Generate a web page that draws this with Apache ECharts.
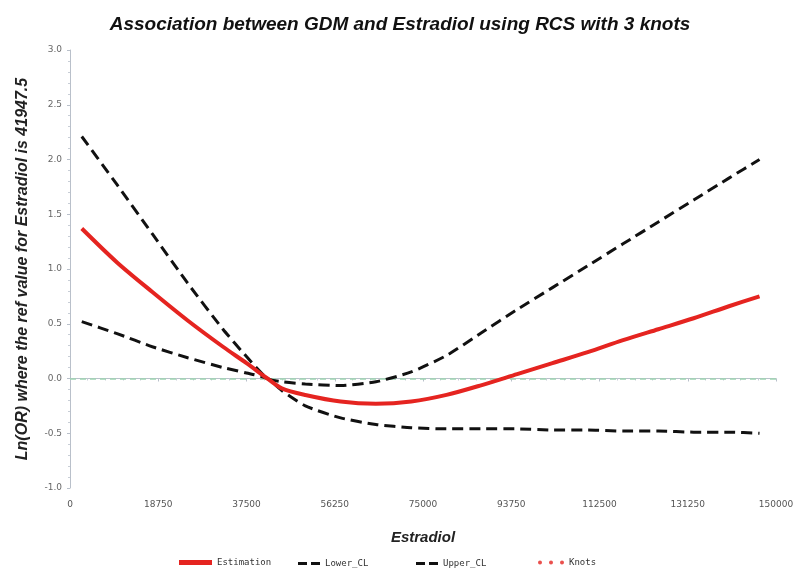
<!DOCTYPE html>
<html>
<head>
<meta charset="utf-8">
<script src="https://cdn.jsdelivr.net/npm/echarts@6/dist/echarts.min.js"></script>
<style>html,body{margin:0;padding:0;background:#fff}#c{width:800px;height:574px}</style>
</head>
<body>
<div id="c"></div>
<script>
var estradiol = [2500, 10000, 17500, 25000, 32500, 37500, 41947.5, 45000, 50000, 57500, 65000, 72500, 80000, 87500, 95000, 102500, 110000, 117500, 125000, 132500, 140000, 146500];
var estimation = [1.37, 1.06, 0.79, 0.53, 0.29, 0.14, 0, -0.09, -0.15, -0.21, -0.23, -0.21, -0.15, -0.06, 0.04, 0.14, 0.24, 0.35, 0.45, 0.55, 0.66, 0.75];
var lowerCL = [0.52, 0.41, 0.29, 0.19, 0.10, 0.05, 0, -0.11, -0.25, -0.36, -0.42, -0.45, -0.46, -0.46, -0.46, -0.47, -0.47, -0.48, -0.48, -0.49, -0.49, -0.50];
var upperCL = [2.21, 1.77, 1.32, 0.87, 0.45, 0.20, 0, -0.03, -0.05, -0.065, -0.03, 0.06, 0.21, 0.42, 0.63, 0.83, 1.03, 1.23, 1.43, 1.63, 1.83, 2.00];
var knots = [];
var refValue = 0;
var xTicks = [0, 150000, 18750];
var yTicks = [-1, 3, 0.5];

function pairs(ys) { return estradiol.map(function (x, i) { return [x, ys[i]]; }); }

var chart = echarts.init(document.getElementById('c'), null, { renderer: 'canvas' });
var legendText = { fontSize: 9, color: '#333', fontFamily: 'DejaVu Sans Mono' };
var dashIcon = 'path://M0,0H9V3H0Z M13,0H22V3H13Z';
var knotIcon = 'path://M0,2A2,2,0,1,1,4,2A2,2,0,1,1,0,2Z M11,2A2,2,0,1,1,15,2A2,2,0,1,1,11,2Z M22,2A2,2,0,1,1,26,2A2,2,0,1,1,22,2Z';
chart.setOption({
  backgroundColor: '#fff',
  animation: false,
  title: {
    text: 'Association between GDM and Estradiol using RCS with 3 knots',
    left: 'center', top: 10,
    textStyle: { fontSize: 19, fontWeight: 'bold', fontStyle: 'italic', color: '#111', fontFamily: 'Liberation Sans' }
  },
  legend: [
    { left: 174, top: 553, selectedMode: false, itemWidth: 33, itemHeight: 5, itemGap: 4, textStyle: legendText,
      data: [{ name: 'Estimation', icon: 'rect' }] },
    { left: 293, top: 554, selectedMode: false, itemWidth: 22, itemHeight: 3, textStyle: legendText,
      data: [{ name: 'Lower_CL', icon: dashIcon }] },
    { left: 411, top: 554, selectedMode: false, itemWidth: 22, itemHeight: 3, textStyle: legendText,
      data: [{ name: 'Upper_CL', icon: dashIcon }] },
    { left: 533, top: 553, selectedMode: false, itemWidth: 26, itemHeight: 4, textStyle: legendText,
      data: [{ name: 'Knots', icon: knotIcon }] }
  ],
  grid: { left: 70, right: 24, top: 50, bottom: 86 },
  xAxis: {
    type: 'value', min: xTicks[0], max: xTicks[1], interval: xTicks[2],
    offset: 3,
    name: 'Estradiol', nameLocation: 'middle', nameGap: 39,
    nameTextStyle: { fontSize: 15, fontWeight: 'bold', fontStyle: 'italic', color: '#222', fontFamily: 'Liberation Sans' },
    axisLine: { lineStyle: { color: '#b9c0ca', width: 1 } },
    axisTick: { show: true, length: 3, lineStyle: { color: '#b9c0ca' } },
    minorTick: { show: true, splitNumber: 5, length: 2, lineStyle: { color: '#c8ced6' } },
    axisLabel: { fontSize: 9, color: '#555', margin: 9, fontFamily: 'DejaVu Sans', formatter: function (v) { return String(v); } },
    splitLine: { show: false }
  },
  yAxis: {
    type: 'value', min: yTicks[0], max: yTicks[1], interval: yTicks[2],
    name: 'Ln(OR) where the ref value for Estradiol is 41947.5', nameLocation: 'middle', nameGap: 39,
    nameTextStyle: { fontSize: 16, fontWeight: 'bold', fontStyle: 'italic', color: '#222', fontFamily: 'Liberation Sans' },
    axisLine: { show: true, lineStyle: { color: '#b9c0ca', width: 1 } },
    axisTick: { show: true, length: 3, lineStyle: { color: '#b9c0ca' } },
    minorTick: { show: true, splitNumber: 5, length: 2, lineStyle: { color: '#c8ced6' } },
    axisLabel: { fontSize: 9, color: '#666', margin: 8, fontFamily: 'DejaVu Sans', formatter: function (v) { return v.toFixed(1); } },
    splitLine: { show: false }
  },
  series: [
    { name: 'Lower_CL', type: 'line', data: pairs(lowerCL), symbol: 'none', smooth: 0.2, z: 3,
      color: '#111', lineStyle: { color: '#111', width: 3, type: [11, 6] } },
    { name: 'Upper_CL', type: 'line', data: pairs(upperCL), symbol: 'none', smooth: 0.2, z: 3,
      color: '#111', lineStyle: { color: '#111', width: 3, type: [11, 6] } },
    { name: 'Estimation', type: 'line', data: pairs(estimation), symbol: 'none', smooth: 0.3, z: 4,
      color: '#e52420', lineStyle: { color: '#e52420', width: 4 },
      markLine: { silent: true, symbol: 'none', label: { show: false }, z: 1,
        lineStyle: { color: '#9fd3b2', width: 1.5, type: [6, 4] },
        data: [{ yAxis: refValue }] } },
    { name: 'Knots', type: 'scatter', data: knots, color: '#e52420', symbolSize: 5 }
  ]
});
</script>
</body>
</html>
